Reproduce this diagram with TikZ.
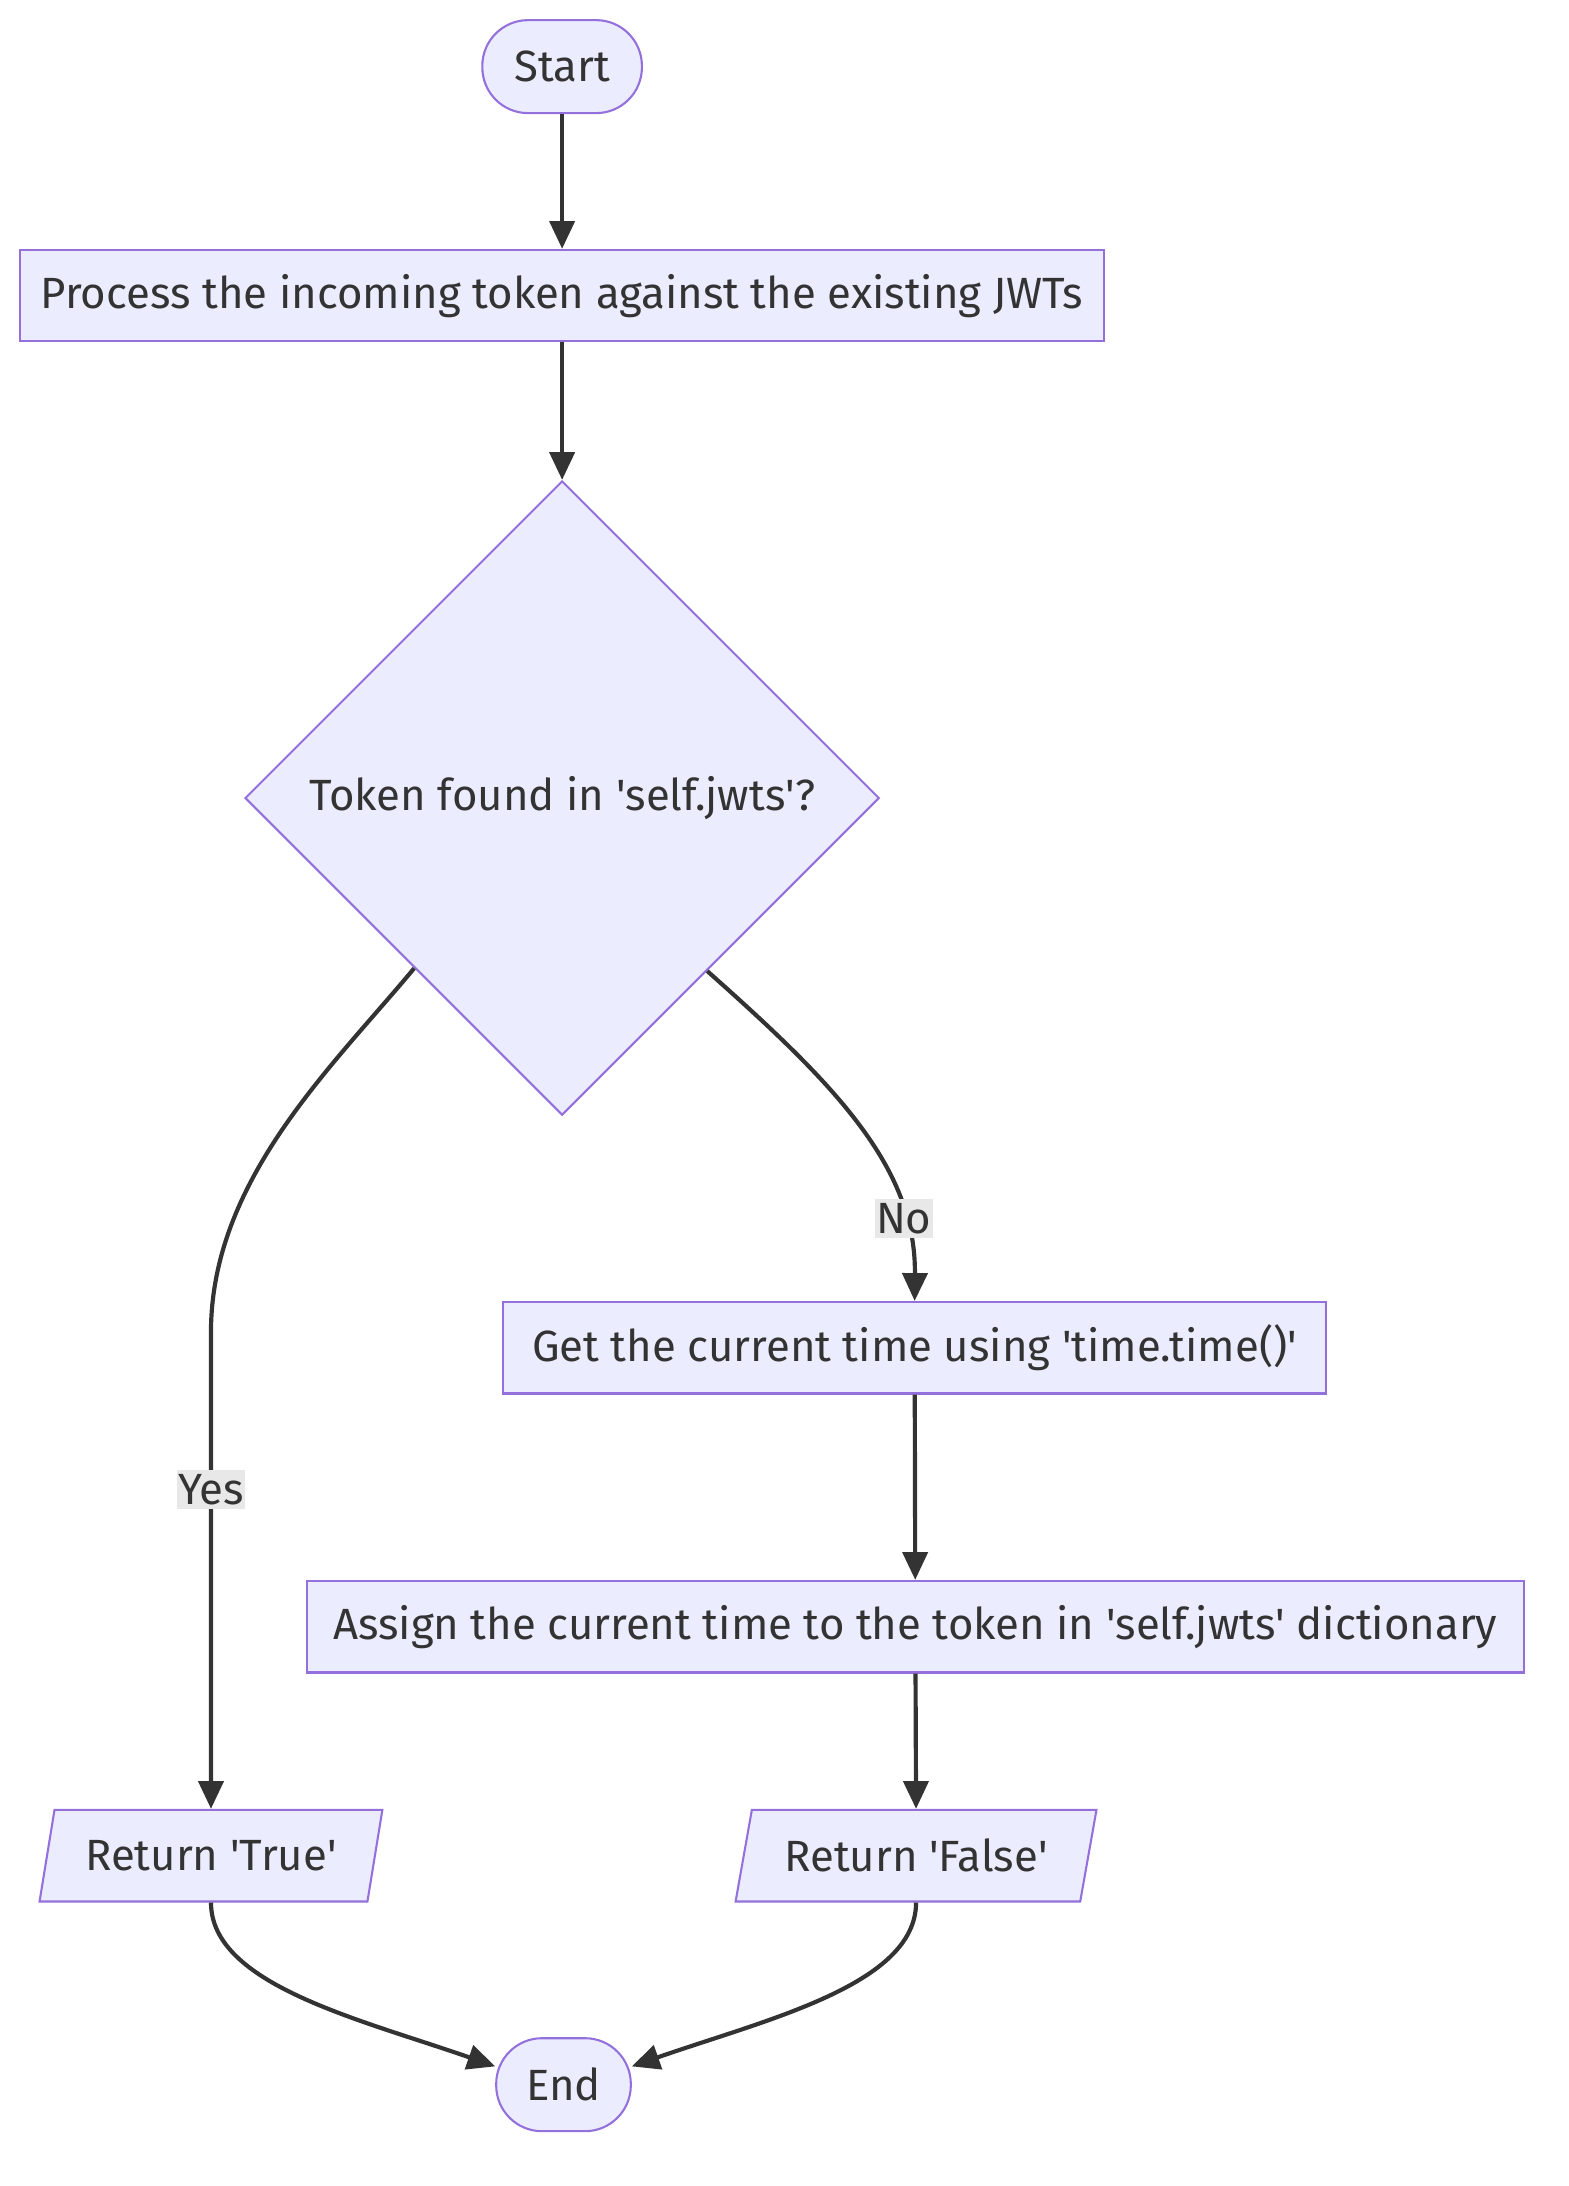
\documentclass[tikz,border=0pt]{standalone}
\usepackage{fontspec}
\setmainfont{Fira Sans}
\usetikzlibrary{arrows.meta,shapes.geometric,positioning}
\definecolor{boxfill}{HTML}{ECECFF}
\definecolor{boxline}{HTML}{9370DB}
\definecolor{ink}{HTML}{333333}
\definecolor{lblfill}{HTML}{E8E8E8}
\newcommand{\sq}{\textquotesingle}
\tikzset{
  base/.style={draw=boxline, fill=boxfill, line width=1.5pt, text=ink,
    font=\fontsize{31.5}{36}\selectfont, inner sep=0pt},
  terminal/.style={base, rectangle, rounded corners=33pt, minimum height=67pt},
  procbox/.style={base, rectangle, minimum height=66pt},
  decision/.style={base, diamond, aspect=1, minimum width=457pt, minimum height=457pt},
  iobox/.style={base, trapezium, trapezium left angle=64, trapezium right angle=116,
    trapezium stretches body=true, minimum height=66pt},
  flow/.style={draw=ink, line width=3pt, -{Triangle[length=20pt,width=18pt]}},
  edgelabel/.style={fill=lblfill, text=ink, font=\fontsize{31.5}{36}\selectfont,
    inner xsep=1pt, inner ysep=3pt}
}
\begin{document}
\begin{tikzpicture}[x=1pt,y=-1pt]
  \fill[white] (0,0) rectangle (1130,1575);
  \useasboundingbox (0,0) rectangle (1130,1575);

  \node[terminal, minimum width=115pt] at (405,48) (start) {Start};
  \node[procbox, minimum width=781pt] at (405,213) (process) {Process the incoming token against the existing JWTs};
  \node[decision] at (405,575) (found) {Token found in \sq self.jwts\sq?};
  \node[procbox, minimum width=593pt] at (659,971) (gettime) {Get the current time using \sq time.time()\sq};
  \node[procbox, minimum width=877pt] at (659.5,1172) (assign) {Assign the current time to the token in \sq self.jwts\sq{} dictionary};
  \node[iobox, minimum width=247pt] at (152,1337) (rettrue) {Return \sq True\sq};
  \node[iobox, minimum width=260pt] at (660,1337) (retfalse) {Return \sq False\sq};
  \node[terminal, minimum width=97pt] at (406,1502) (end) {End};

  \draw[flow] (start) -- (process);
  \draw[flow] (process) -- (found);
  \draw[flow] (found.229.5) .. controls (240,768) and (152,850) .. (152,960)
    -- node[edgelabel, pos=0.33] {Yes} (rettrue.north);
  \draw[flow] (found.310.5) .. controls (600,780) and (660,840) .. node[edgelabel, pos=0.78] {No} (gettime.north);
  \draw[flow] (gettime) -- (assign);
  \draw[flow] (assign) -- (retfalse.north);
  \draw[flow] (rettrue.south) .. controls (152,1430) and (260,1455) .. (end.165);
  \draw[flow] (retfalse.south) .. controls (660,1430) and (552,1455) .. (end.15);
\end{tikzpicture}
\end{document}
